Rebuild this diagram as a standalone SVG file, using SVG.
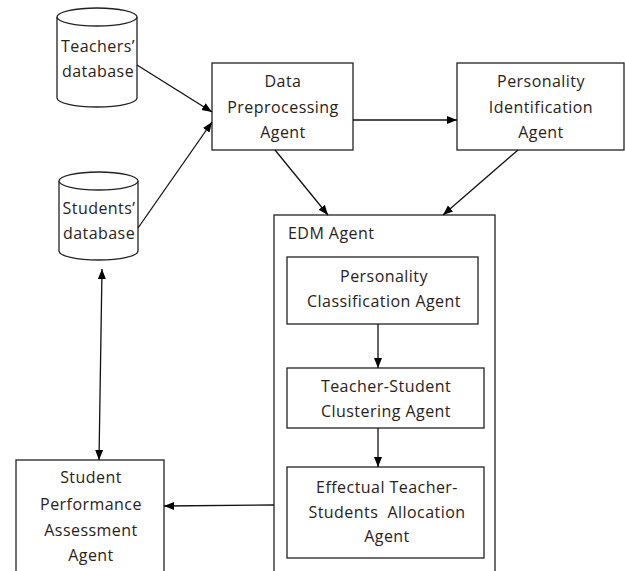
<svg xmlns="http://www.w3.org/2000/svg" width="625" height="571" viewBox="0 0 625 571">
<defs>
<marker id="ah" viewBox="0 0 10 10" refX="10" refY="5" markerWidth="10" markerHeight="10" markerUnits="userSpaceOnUse" orient="auto-start-reverse">
<path d="M0,1 L10,5 L0,9 z" fill="#000"/>
</marker>
<style>
.box{fill:#fff;stroke:#222;stroke-width:1.3}
.db{fill:#fff;stroke:#222;stroke-width:1.3}
.t{font-family:"Open Sans",Lato,sans-serif;font-size:16px;letter-spacing:0.45px;fill:#2a2218;text-anchor:middle}
.tl{text-anchor:start}
.c{fill:none;stroke:#111;stroke-width:1.3;marker-end:url(#ah)}
</style>
</defs>
<rect width="625" height="571" fill="#fff"/>
<g id="teachers-db">
<path class="db" d="M57,17 L57,98 A40,9 0 0 0 137,98 L137,17"/>
<ellipse class="db" cx="97" cy="17" rx="40" ry="9"/>
<text class="t" x="98" y="52">Teachers’</text>
<text class="t" x="98" y="77">database</text>
</g>
<g id="students-db">
<path class="db" d="M59,181 L59,251 A39.5,9 0 0 0 138,251 L138,181"/>
<ellipse class="db" cx="98.5" cy="181" rx="39.5" ry="9"/>
<text class="t" x="99" y="214">Students’</text>
<text class="t" x="99" y="239">database</text>
</g>
<g id="data-preprocessing">
<rect class="box" x="212" y="63" width="141" height="87"/>
<text class="t" x="283" y="87">Data</text>
<text class="t" x="283" y="113">Preprocessing</text>
<text class="t" x="283" y="138">Agent</text>
</g>
<g id="personality-identification">
<rect class="box" x="457" y="63" width="167" height="87"/>
<text class="t" x="541" y="87">Personality</text>
<text class="t" x="541" y="113">Identification</text>
<text class="t" x="541" y="138">Agent</text>
</g>
<g id="edm-agent">
<rect class="box" x="274" y="215" width="221" height="362"/>
<text class="t tl" x="288" y="239">EDM Agent</text>
</g>
<g id="personality-classification">
<rect class="box" x="287" y="257" width="191" height="67"/>
<text class="t" x="384" y="282">Personality</text>
<text class="t" x="384" y="307">Classification Agent</text>
</g>
<g id="teacher-student-clustering">
<rect class="box" x="287" y="368" width="197" height="60"/>
<text class="t" x="386" y="392">Teacher-Student</text>
<text class="t" x="386" y="417">Clustering Agent</text>
</g>
<g id="allocation">
<rect class="box" x="287" y="467" width="197" height="91"/>
<text class="t" x="387" y="493">Effectual Teacher-</text>
<text class="t" x="387" y="518" xml:space="preserve">Students  Allocation</text>
<text class="t" x="387" y="542">Agent</text>
</g>
<g id="student-performance">
<rect class="box" x="16" y="460" width="148" height="120"/>
<text class="t" x="91" y="483">Student</text>
<text class="t" x="91" y="510">Performance</text>
<text class="t" x="91" y="536">Assessment</text>
<text class="t" x="91" y="561">Agent</text>
</g>
<g id="connectors">
<line class="c" x1="137" y1="65" x2="212" y2="112"/>
<line class="c" x1="138" y1="228" x2="212" y2="122"/>
<line class="c" x1="353" y1="120" x2="457" y2="120"/>
<line class="c" x1="275" y1="150" x2="328" y2="215"/>
<line class="c" x1="518" y1="150" x2="443" y2="215"/>
<line class="c" x1="378" y1="324" x2="378" y2="368"/>
<line class="c" x1="378" y1="428" x2="378" y2="467"/>
<line class="c" x1="274" y1="505" x2="164" y2="506"/>
<line class="c" x1="102" y1="269" x2="99" y2="460" style="marker-start:url(#ah)"/>
</g>
</svg>
